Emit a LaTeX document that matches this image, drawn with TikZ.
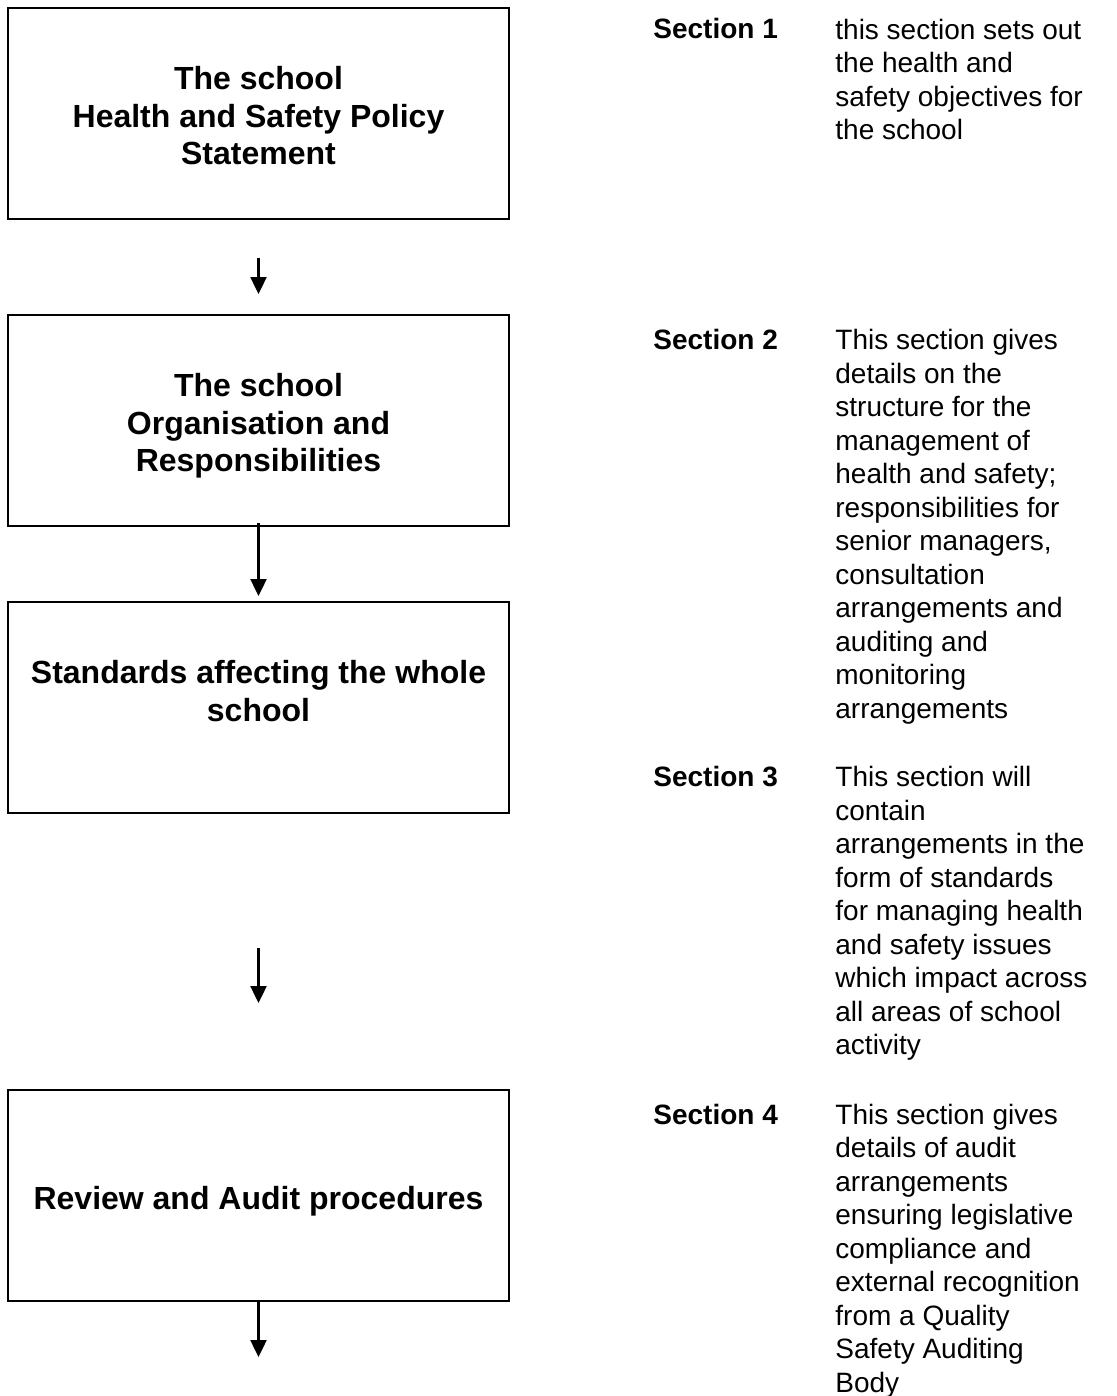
\documentclass[tikz,border=0pt]{standalone}
\usepackage{fontspec}
\setmainfont{Liberation Sans}
\usetikzlibrary{arrows.meta}
\newcommand\topstrut{\rule{0pt}{17pt}}
\newcommand\botstrut{\rule[-3.5pt]{0pt}{3.5pt}}
\newcommand\firststrut{\rule{0pt}{12pt}}

\begin{document}
\begin{tikzpicture}[x=0.5pt, y=-0.5pt,
    box/.style={draw, line width=1pt, minimum width=250.5pt, minimum height=105.5pt,
                inner sep=0pt, align=center, font=\fontsize{16}{18.75}\selectfont\bfseries},
    flow/.style={-{Triangle[length=8.5pt, width=8pt]}, line width=1.2pt},
    sect/.style={anchor=base west, inner sep=0pt, font=\fontsize{14}{16.75}\selectfont\bfseries},
    desc/.style={anchor=north west, inner sep=0pt, align=left, font=\fontsize{14}{16.75}\selectfont}]
    \useasboundingbox (0,0) rectangle (1117,1396);

    \node[box] (policy) at (258.5,114) {\topstrut The school\\ Health and Safety Policy\\ Statement\botstrut};
    \node[box] (organisation) at (258.5,420.5) {\topstrut The school\\ Organisation and\\ Responsibilities\botstrut};
    \node[box] (standards) at (258.5,707.5) {\topstrut Standards affecting the whole\\ school\\ \botstrut};
    \node[box] (review) at (258.5,1195.5) {\topstrut Review and Audit procedures\botstrut};
    \coordinate (next) at (258.5,1357);

    \draw[flow, shorten <=18.5pt, shorten >=10pt] (policy) -- (organisation);
    \draw[flow, shorten <=-2pt, shorten >=2.5pt] (organisation) -- (standards);
    \draw[flow, shorten <=67pt, shorten >=43pt] (standards) -- (review);
    \draw[flow] (review) -- (next);

    \node[sect] (sec1) at (653,39) {Section 1};
    \node[desc] (text1) at (835,15) {\firststrut this section sets out\\ the health and\\ safety objectives for\\ the school};

    \node[sect] (sec2) at (653,349.5) {Section 2};
    \node[desc] (text2) at (835,325.5) {\firststrut This section gives\\ details on the\\ structure for the\\ management of\\ health and safety;\\ responsibilities for\\ senior managers,\\ consultation\\ arrangements and\\ auditing and\\ monitoring\\ arrangements};

    \node[sect] (sec3) at (653,786.5) {Section 3};
    \node[desc] (text3) at (835,762.5) {\firststrut This section will\\ contain\\ arrangements in the\\ form of standards\\ for managing health\\ and safety issues\\ which impact across\\ all areas of school\\ activity};

    \node[sect] (sec4) at (653,1124) {Section 4};
    \node[desc] (text4) at (835,1100) {\firststrut This section gives\\ details of audit\\ arrangements\\ ensuring legislative\\ compliance and\\ external recognition\\ from a Quality\\ Safety Auditing\\ Body};
\end{tikzpicture}
\end{document}
